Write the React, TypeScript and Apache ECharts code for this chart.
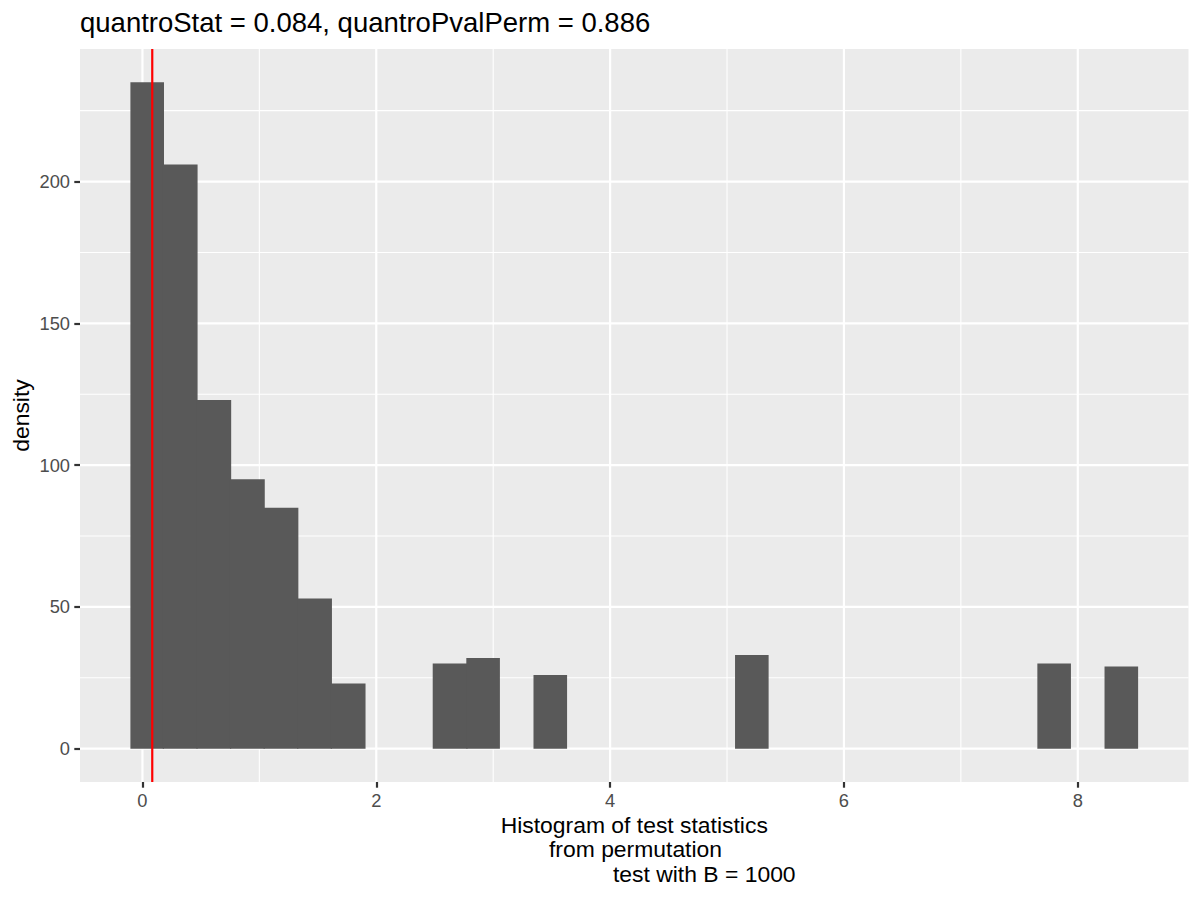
import React, { useEffect, useRef } from "react";
import * as echarts from "echarts";

// ---- data ----
const binStart = -0.1029;
const binWidth = 0.2873;
const densities = [
  235, 206, 123, 95, 85, 53, 23, 0, 0, 30,
  32, 0, 26, 0, 0, 0, 0, 0, 33, 0,
  0, 0, 0, 0, 0, 0, 0, 30, 0, 29,
];
const quantroStat = 0.084;
const quantroPvalPerm = 0.886;
const xTicks = [0, 2, 4, 6, 8];
const xMinorTicks = [1, 3, 5, 7];
const yTicks = [0, 50, 100, 150, 200];
const yMinorTicks = [25, 75, 125, 175, 225];
const xRange = [-0.534, 8.947];
const yRange = [-11.75, 246.75];
const titleText = `quantroStat = ${quantroStat.toFixed(3)}, quantroPvalPerm = ${quantroPvalPerm.toFixed(3)}`;
const xTitleLines = ["Histogram of test statistics", "from permutation", "test with B = 1000"];
const yTitle = "density";

const FONT = "'Liberation Sans', Arial, Helvetica, sans-serif";

export default function App() {
  const ref = useRef<HTMLDivElement>(null);

  useEffect(() => {
    if (!ref.current) return;
    const chart = echarts.init(ref.current, null, { renderer: "svg" });

    const bins = densities.map((d, i) => [
      binStart + i * binWidth,
      binStart + (i + 1) * binWidth,
      d,
    ]);
    const vGrid = [
      ...xMinorTicks.map((v) => [v, 0, 0]),
      ...xTicks.map((v) => [v, 0, 1]),
    ];
    const hGrid = [
      ...yMinorTicks.map((v) => [0, v, 0]),
      ...yTicks.map((v) => [0, v, 1]),
    ];

    const option: any = {
      animation: false,
      backgroundColor: "#FFFFFF",
      grid: {
        left: 80,
        top: 49,
        width: 1108.5,
        height: 733,
        show: true,
        backgroundColor: "#EBEBEB",
        borderWidth: 0,
      },
      xAxis: {
        type: "value",
        min: xRange[0],
        max: xRange[1],
        axisLine: { show: false, onZero: false },
        axisTick: {
          show: true,
          customValues: xTicks,
          length: 5.7,
          lineStyle: { color: "#333333", width: 2.2 },
        },
        axisLabel: {
          customValues: xTicks,
          color: "#4D4D4D",
          fontSize: 18.3,
          fontFamily: FONT,
          margin: 9,
        },
        splitLine: { show: false },
      },
      yAxis: {
        type: "value",
        min: yRange[0],
        max: yRange[1],
        axisLine: { show: false, onZero: false },
        axisTick: {
          show: true,
          customValues: yTicks,
          length: 5.7,
          lineStyle: { color: "#333333", width: 2.2 },
        },
        axisLabel: {
          customValues: yTicks,
          color: "#4D4D4D",
          fontSize: 18.3,
          fontFamily: FONT,
          margin: 10,
        },
        splitLine: { show: false },
      },
      graphic: [
        {
          type: "text",
          x: 80,
          y: 22.5,
          style: {
            text: titleText,
            fontSize: 27.5,
            fontFamily: FONT,
            fill: "#000000",
            textAlign: "left",
            verticalAlign: "middle",
          },
        },
        {
          type: "text",
          x: 500.7,
          y: 825,
          style: {
            text: xTitleLines[0],
            fontSize: 22.9,
            fontFamily: FONT,
            fill: "#000000",
            textAlign: "left",
            verticalAlign: "middle",
          },
        },
        {
          type: "text",
          x: 549,
          y: 849.4,
          style: {
            text: xTitleLines[1],
            fontSize: 22.9,
            fontFamily: FONT,
            fill: "#000000",
            textAlign: "left",
            verticalAlign: "middle",
          },
        },
        {
          type: "text",
          x: 613,
          y: 873.8,
          style: {
            text: xTitleLines[2],
            fontSize: 22.9,
            fontFamily: FONT,
            fill: "#000000",
            textAlign: "left",
            verticalAlign: "middle",
          },
        },
        {
          type: "text",
          x: 20.5,
          y: 415.5,
          rotation: Math.PI / 2,
          style: {
            text: yTitle,
            fontSize: 22.9,
            fontFamily: FONT,
            fill: "#000000",
            textAlign: "center",
            verticalAlign: "middle",
          },
        },
      ],
      series: [
        {
          type: "custom",
          name: "vgrid",
          silent: true,
          clip: false,
          data: vGrid,
          encode: { x: 0, y: 1 },
          renderItem: (params: any, api: any) => {
            const cs = params.coordSys;
            const x = api.coord([api.value(0), 0])[0];
            const major = api.value(2) === 1;
            return {
              type: "line",
              shape: { x1: x, y1: cs.y, x2: x, y2: cs.y + cs.height },
              style: { stroke: "#FFFFFF", lineWidth: major ? 2.2 : 1.1 },
            };
          },
        },
        {
          type: "custom",
          name: "hgrid",
          silent: true,
          clip: false,
          data: hGrid,
          encode: { x: 0, y: 1 },
          renderItem: (params: any, api: any) => {
            const cs = params.coordSys;
            const y = api.coord([0, api.value(1)])[1];
            const major = api.value(2) === 1;
            return {
              type: "line",
              shape: { x1: cs.x, y1: y, x2: cs.x + cs.width, y2: y },
              style: { stroke: "#FFFFFF", lineWidth: major ? 2.2 : 1.1 },
            };
          },
        },
        {
          type: "custom",
          name: "histogram",
          silent: true,
          data: bins,
          encode: { x: [0, 1], y: 2 },
          renderItem: (params: any, api: any) => {
            const h = api.value(2);
            if (!h) return null;
            const p0 = api.coord([api.value(0), h]);
            const p1 = api.coord([api.value(1), 0]);
            const i = params.dataIndex;
            const next = densities[i + 1] || 0;
            const prev = i > 0 ? densities[i - 1] : 0;
            // extend only toward a taller neighbour so seams vanish without shifting steps
            const extR = next >= h ? 1.2 : 0;
            const extL = prev > h ? 1.2 : 0;
            return {
              type: "rect",
              shape: {
                x: p0[0] - extL,
                y: p0[1],
                width: p1[0] - p0[0] + extL + extR,
                height: p1[1] - p0[1],
              },
              style: { fill: "#595959" },
            };
          },
        },
        {
          type: "custom",
          name: "stat",
          silent: true,
          clip: false,
          data: [[quantroStat, 0]],
          encode: { x: 0, y: 1 },
          renderItem: (params: any, api: any) => {
            const cs = params.coordSys;
            const x = api.coord([api.value(0), 0])[0];
            return {
              type: "line",
              shape: { x1: x, y1: cs.y, x2: x, y2: cs.y + cs.height },
              style: { stroke: "#FF0000", lineWidth: 2.2 },
            };
          },
        },
      ],
    };

    chart.setOption(option);
    return () => chart.dispose();
  }, []);

  return (
    <div
      ref={ref}
      style={{ position: "fixed", left: 0, top: 0, width: 1200, height: 900, background: "#FFFFFF" }}
    />
  );
}
